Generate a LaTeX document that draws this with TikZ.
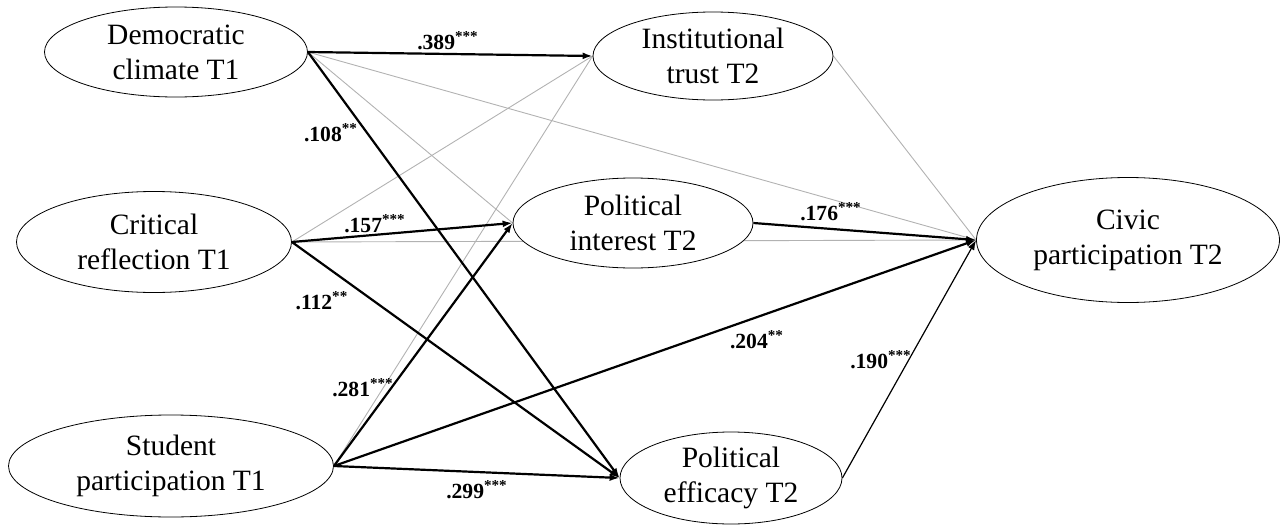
\documentclass[tikz,border=0pt]{standalone}
\usepackage{fontspec}
\setmainfont{Liberation Serif}
\usepackage{tikz}
\usetikzlibrary{
  arrows.meta,
  positioning,
  shapes.geometric,
  backgrounds}
\tikzset{var/.style={ellipse, draw, fill=white, inner sep=0pt, align=center,
                     font=\fontsize{14.75}{17.5}\selectfont},
         coef/.style={inner sep=0pt, font=\fontsize{10.8}{12}\selectfont\bfseries},
         sig/.style={-{Latex[length=5pt,width=3.5pt]}, line width=1.1pt},
         weak/.style={-{Latex[length=5pt,width=3.5pt]}, line width=0.6pt},
         ns/.style={gray!60, line width=0.45pt}
        }

\begin{document}
\begin{tikzpicture}[x=0.5pt,y=-0.5pt]
\useasboundingbox (0,0) rectangle (1282,525);
% T1 predictors
\node[var, minimum width=131.5pt, minimum height=45pt] (dem) at (176,52) {Democratic\\climate T1};
\node[var, minimum width=137.5pt, minimum height=50.5pt] (crit) at (154,242) {Critical\\reflection T1};
\node[var, minimum width=162.5pt, minimum height=51pt] (stud) at (171,466) {Student\\participation T1};
% T2 mediators
\node[var, minimum width=120pt, minimum height=44pt] (trust) at (713,56) {Institutional\\trust T2};
\node[var, minimum width=120pt, minimum height=45pt] (inter) at (633,223) {Political\\interest T2};
\node[var, minimum width=111pt, minimum height=46pt] (effic) at (731,478) {Political\\efficacy T2};
% outcome
\node[var, minimum width=151.5pt, minimum height=62.5pt] (civic) at (1128,240) {Civic\\participation T2};

\begin{scope}[on background layer]
% non significant paths
\draw[ns] (dem.east) -- (inter.west);
\draw[ns] (dem.east) -- (civic.west);
\draw[ns] (crit.east) -- (trust.west);
\draw[ns] (crit.east) -- (civic.west);
\draw[ns] (stud.east) -- (trust.west);
\draw[ns] (trust.east) -- (civic.west);
% significant paths
\draw[sig] (dem.east) -- (trust.west);
\draw[sig] (dem.east) -- (effic.west);
\draw[sig] (crit.east) -- (inter.west);
\draw[sig] (crit.east) -- (effic.west);
\draw[sig] (stud.east) -- (inter.west);
\draw[sig] (stud.east) -- (civic.west);
\draw[sig] (stud.east) -- (effic.west);
\draw[sig] (inter.east) -- (civic.west);
\draw[weak] (effic.east) -- (civic.west);
\end{scope}

% coefficients
\node[coef] (b389) at (448,41) {.389\textsuperscript{***}};
\node[coef] (b108) at (331,133) {.108\textsuperscript{**}};
\node[coef] (b157) at (375,224) {.157\textsuperscript{***}};
\node[coef] (b112) at (322,301) {.112\textsuperscript{**}};
\node[coef] (b281) at (363,388) {.281\textsuperscript{***}};
\node[coef] (b299) at (477,490) {.299\textsuperscript{***}};
\node[coef] (b176) at (831,212) {.176\textsuperscript{***}};
\node[coef] (b204) at (757,340) {.204\textsuperscript{**}};
\node[coef] (b190) at (881,360) {.190\textsuperscript{***}};
\end{tikzpicture}
\end{document}
